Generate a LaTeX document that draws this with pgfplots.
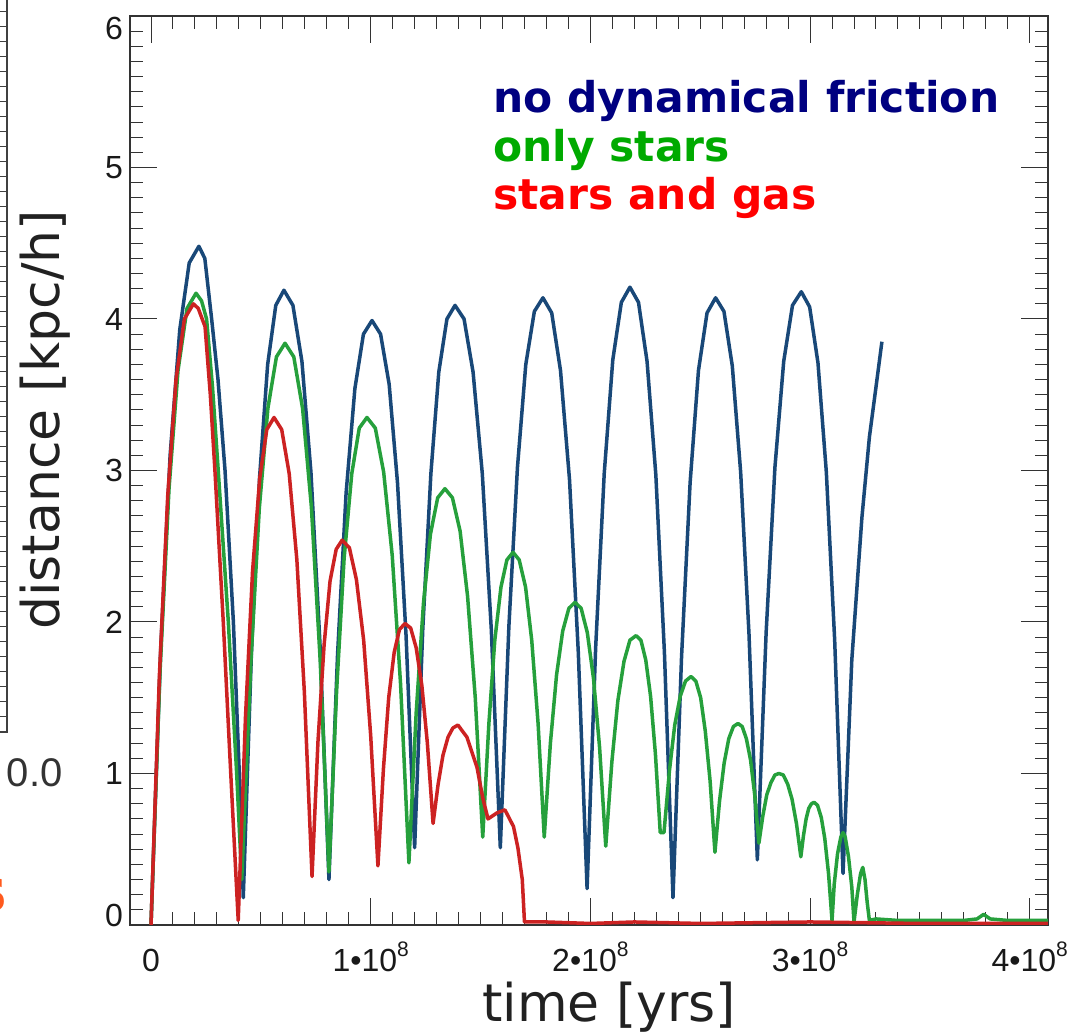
\documentclass[border=0pt]{standalone}
\usepackage{pgfplots}
\pgfplotsset{compat=1.18}
\usepackage{fontspec}
\setmainfont{DejaVu Sans}
\newfontfamily\tickfont{Liberation Sans}
\definecolor{blueline}{HTML}{194878}
\definecolor{greenline}{HTML}{26A03C}
\definecolor{redline}{HTML}{CC2222}
\definecolor{navytext}{HTML}{000080}
\definecolor{greentext}{HTML}{00AA00}
\definecolor{redtext}{HTML}{FF0000}
\definecolor{orangeS}{HTML}{FF5A1E}
\newcommand{\sci}[1]{#1•10\raisebox{7.5pt}{\fontsize{10.5}{10.5}\selectfont 8}}
\newcommand{\shifted}[2]{\vphantom{0}\smash{\raisebox{#1}{#2}}}
\begin{document}
\begin{tikzpicture}
\begin{axis}[
  at={(0,0)}, anchor=south west,
  scale only axis, width=459pt, height=454.5pt,
  xmin=-0.0956, xmax=4.083, ymin=0, ymax=6,
  xtick={0,1,2,3,4}, xticklabels={0,\sci{1},\sci{2},\sci{3},\sci{4}},
  ytick={0,1,2,3,4,5,6}, yticklabels={\shifted{5pt}{0},1,2,3,4,5,\shifted{-6pt}{6}},
  minor x tick num=9, minor y tick num=9,
  major tick length=13.5pt, minor tick length=6.7pt,
  tick align=inside,
  tick style={line width=0.5pt, color=black!80},
  axis line style={line width=0.8pt, color=black!80},
  ticklabel style={font=\tickfont\fontsize{16}{16}\selectfont, text=black!90},
  xticklabel style={anchor=base, yshift=-23.4pt},
  yticklabel style={anchor=east},
  xlabel={time [yrs]}, ylabel={distance [kpc/h]},
  label style={font=\fontsize{26}{30}\selectfont, text=black!87},
  xlabel style={at={(axis description cs:0.522,0)}, anchor=base, yshift=-48.4pt},
  ylabel style={at={(axis description cs:-0.0926,0.5556)}, anchor=center},
]
% no dynamical friction
\addplot[color=blueline, line width=1.75pt, line join=round, no markers] coordinates {
(0,0) (0.0436,1.80) (0.087,3.10) (0.131,3.93) (0.174,4.37) (0.218,4.48)
(0.245,4.40) (0.276,4.0) (0.305,3.6) (0.337,3.0) (0.375,2.0) (0.402,1.0) (0.42,0.18)
(0.457,1.79) (0.494,2.95) (0.531,3.70) (0.568,4.09) (0.605,4.19) (0.646,4.09) (0.687,3.72) (0.728,2.99) (0.769,1.86) (0.81,0.30)
(0.849,1.78) (0.888,2.85) (0.928,3.54) (0.967,3.90) (1.006,3.99) (1.045,3.90) (1.084,3.57) (1.122,2.92) (1.161,1.91) (1.20,0.51)
(1.237,1.95) (1.274,2.98) (1.310,3.65) (1.347,4.00) (1.384,4.09) (1.425,4.00) (1.466,3.65) (1.508,2.98) (1.549,1.95) (1.59,0.51)
(1.629,1.97) (1.668,3.02) (1.706,3.70) (1.745,4.05) (1.784,4.14) (1.824,4.04) (1.864,3.66) (1.905,2.94) (1.945,1.80) (1.985,0.24)
(2.024,1.83) (2.063,2.98) (2.102,3.73) (2.141,4.11) (2.18,4.21) (2.219,4.11) (2.258,3.72) (2.298,2.97) (2.337,1.80) (2.376,0.18)
(2.415,1.77) (2.454,2.92) (2.492,3.66) (2.531,4.04) (2.57,4.14) (2.608,4.05) (2.646,3.69) (2.684,2.99) (2.722,1.92) (2.76,0.43)
(2.80,1.93) (2.84,3.02) (2.88,3.72) (2.92,4.09) (2.96,4.18) (2.998,4.08) (3.036,3.71) (3.074,2.99) (3.112,1.88) (3.15,0.34)
(3.19,1.75) (3.236,2.69) (3.27,3.22) (3.30,3.55) (3.327,3.85)
};
% only stars
\addplot[color=greenline, line width=1.75pt, line join=round, no markers] coordinates {
(0,0) (0.041,1.67) (0.082,2.88) (0.123,3.66) (0.164,4.07) (0.205,4.17)
(0.23,4.12) (0.253,4.0) (0.28,3.55) (0.306,3.0) (0.352,2.0) (0.39,1.0) (0.413,0.30)
(0.454,1.72) (0.493,2.75) (0.532,3.41) (0.571,3.75) (0.61,3.84) (0.65,3.75) (0.69,3.41) (0.73,2.76) (0.77,1.75) (0.81,0.35)
(0.845,1.55) (0.879,2.42) (0.914,2.98) (0.948,3.28) (0.983,3.35) (1.021,3.28) (1.059,2.99) (1.098,2.44) (1.136,1.59) (1.174,0.41)
(1.207,1.40) (1.240,2.12) (1.272,2.58) (1.305,2.82) (1.338,2.88) (1.372,2.82) (1.407,2.60) (1.441,2.17) (1.476,1.50) (1.51,0.58)
(1.538,1.33) (1.565,1.88) (1.593,2.23) (1.620,2.41) (1.648,2.46) (1.676,2.41) (1.705,2.23) (1.733,1.88) (1.762,1.33) (1.79,0.58)
(1.818,1.20) (1.846,1.65) (1.874,1.94) (1.902,2.09) (1.93,2.13) (1.958,2.09) (1.986,1.93) (2.014,1.63) (2.042,1.17) (2.07,0.52)
(2.098,1.08) (2.125,1.48) (2.153,1.74) (2.180,1.88) (2.208,1.91) (2.23,1.88) (2.252,1.75) (2.274,1.51) (2.296,1.13) (2.318,0.61) (2.335,0.61)
(2.360,1.02) (2.384,1.32) (2.409,1.51) (2.433,1.61) (2.458,1.64) (2.480,1.61) (2.502,1.50) (2.523,1.28) (2.545,0.95) (2.567,0.48)
(2.588,0.82) (2.609,1.07) (2.630,1.23) (2.651,1.31) (2.672,1.33) (2.691,1.31) (2.710,1.23) (2.729,1.09) (2.748,0.86) (2.767,0.54)
(2.785,0.72) (2.803,0.86) (2.822,0.94) (2.840,0.99) (2.858,1.00) (2.878,0.99) (2.898,0.93) (2.918,0.83) (2.938,0.67) (2.958,0.45)
(2.97,0.59) (2.982,0.70) (2.994,0.77) (3.006,0.80) (3.018,0.81) (3.034,0.79) (3.051,0.71) (3.067,0.57) (3.084,0.34) (3.10,0.03)
(3.11,0.27) (3.125,0.47) (3.14,0.58) (3.15,0.61) (3.16,0.58) (3.175,0.45) (3.19,0.25) (3.20,0.02)
(3.215,0.20) (3.23,0.34) (3.24,0.38) (3.25,0.30) (3.26,0.15) (3.27,0.03)
(3.3,0.04) (3.4,0.03) (3.5,0.03) (3.6,0.03) (3.7,0.03) (3.76,0.04) (3.79,0.07) (3.82,0.04) (3.9,0.03) (4.0,0.03) (4.083,0.03)
};
% stars and gas
\addplot[color=redline, line width=1.75pt, line join=round, no markers] coordinates {
(0,0) (0.038,1.64) (0.076,2.83) (0.114,3.60) (0.152,4.00) (0.193,4.10)
(0.215,4.07) (0.246,3.95) (0.27,3.5) (0.291,3.0) (0.329,2.0) (0.363,1.0) (0.397,0.03)
(0.430,1.37) (0.462,2.33) (0.495,2.95) (0.527,3.27) (0.56,3.35) (0.595,3.27) (0.629,2.98) (0.664,2.41) (0.698,1.54) (0.733,0.32)
(0.760,1.21) (0.788,1.85) (0.815,2.27) (0.843,2.48) (0.87,2.54) (0.903,2.49) (0.935,2.28) (0.968,1.88) (1.000,1.25) (1.033,0.39)
(1.058,1.03) (1.082,1.50) (1.107,1.80) (1.131,1.95) (1.156,1.99) (1.182,1.96) (1.207,1.83) (1.233,1.58) (1.258,1.20) (1.284,0.67)
(1.307,0.93) (1.329,1.12) (1.352,1.24) (1.374,1.30) (1.397,1.32) (1.438,1.24) (1.484,1.04) (1.51,0.84) (1.534,0.70)
(1.575,0.74) (1.611,0.76) (1.65,0.65) (1.67,0.51) (1.69,0.30) (1.70,0.02)
(1.8,0.02) (2.0,0.01) (2.2,0.02) (2.5,0.01) (3.0,0.02) (3.5,0.01) (4.083,0.01)
};
\node[anchor=base west, inner sep=0, font=\bfseries\fontsize{21.2}{24}\selectfont, text=navytext] at (axis description cs:0.3954,0.8933) {no dynamical friction};
\node[anchor=base west, inner sep=0, font=\bfseries\fontsize{21.2}{24}\selectfont, text=greentext] at (axis description cs:0.3954,0.8397) {only stars};
\node[anchor=base west, inner sep=0, font=\bfseries\fontsize{21.2}{24}\selectfont, text=redtext] at (axis description cs:0.3954,0.7866) {stars and gas};
\end{axis}
% remnants of the neighbouring panel at the left edge
\draw[black!75, line width=0.6pt] (-61.5pt,463pt) -- (-61.5pt,96.5pt) -- (-66pt,96.5pt);
\foreach \k in {1,...,48} {\pgfmathsetmacro\yy{96.5+7.5*\k}\draw[black!75, line width=0.5pt] (-66pt,\yy pt) -- (-61.5pt,\yy pt);}
\node[anchor=east, inner sep=0, font=\tickfont\fontsize{20}{20}\selectfont, text=black!80] at (-33.5pt,76pt) {0.0};
\node[anchor=east, inner sep=0, font=\bfseries\fontsize{30}{30}\selectfont, text=orangeS] at (-61pt,15pt) {s};
\pgfresetboundingbox
\path (-65pt,-53.5pt) rectangle (471.5pt,462.5pt);
\end{tikzpicture}
\end{document}
